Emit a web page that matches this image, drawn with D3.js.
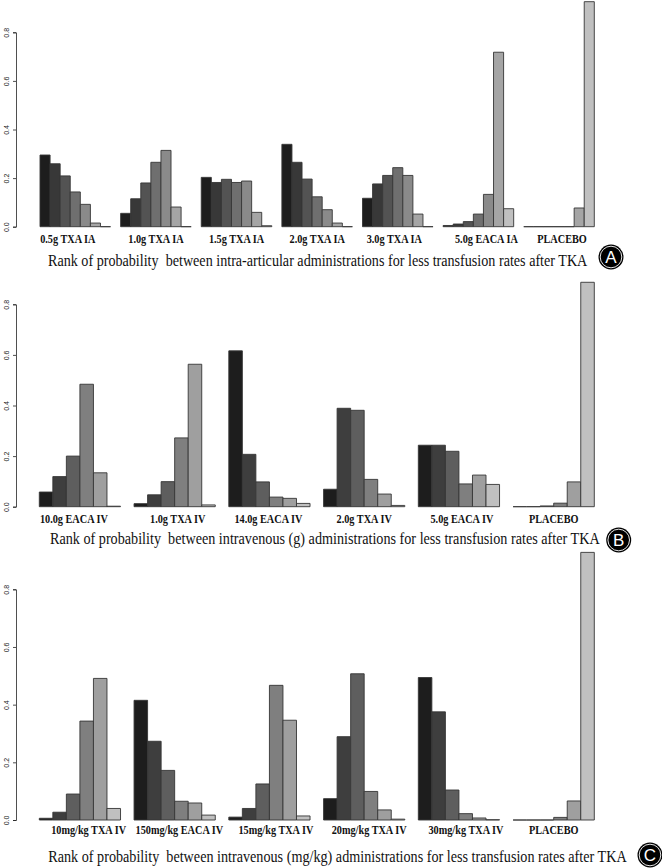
<!DOCTYPE html>
<html>
<head>
<meta charset="utf-8">
<script src="https://cdn.jsdelivr.net/npm/d3@7"></script>
<style>
  body { margin: 0; background: #fff; }
  svg { display: block; }
</style>
</head>
<body>
<svg id="chart" width="662" height="868"></svg>
<script>
// ranks probabilities (one row per treatment, one value per rank)
const groupsA = ["0.5g TXA IA", "1.0g TXA IA", "1.5g TXA IA", "2.0g TXA IA", "3.0g TXA IA", "5.0g EACA IA", "PLACEBO"]
const probsA = [
  [0.295, 0.259, 0.209, 0.143, 0.092, 0.015, 0.0],
  [0.055, 0.115, 0.180, 0.265, 0.314, 0.081, 0.0],
  [0.203, 0.182, 0.195, 0.182, 0.188, 0.059, 0.004],
  [0.339, 0.265, 0.196, 0.123, 0.070, 0.015, 0.0],
  [0.117, 0.176, 0.211, 0.243, 0.211, 0.052, 0.0],
  [0.005, 0.011, 0.021, 0.052, 0.133, 0.718, 0.074],
  [0.0, 0.0, 0.0, 0.0, 0.0, 0.077, 0.926]
]
const titleA = "Rank of probability  between intra-articular administrations for less transfusion rates after TKA"

const groupsB = ["10.0g EACA IV", "1.0g TXA IV", "14.0g EACA IV", "2.0g TXA IV", "5.0g EACA IV", "PLACEBO"]
const probsB = [
  [0.058, 0.119, 0.200, 0.484, 0.134, 0.002],
  [0.012, 0.047, 0.099, 0.272, 0.563, 0.007],
  [0.616, 0.207, 0.098, 0.038, 0.033, 0.013],
  [0.069, 0.389, 0.381, 0.108, 0.050, 0.005],
  [0.243, 0.243, 0.219, 0.090, 0.125, 0.088],
  [0.0, 0.0, 0.003, 0.014, 0.098, 0.887]
]
const titleB = "Rank of probability  between intravenous (g) administrations for less transfusion rates after TKA"

const groupsC = ["10mg/kg TXA IV", "150mg/kg EACA IV", "15mg/kg TXA IV", "20mg/kg TXA IV", "30mg/kg TXA IV", "PLACEBO"]
const probsC = [
  [0.006, 0.027, 0.090, 0.343, 0.491, 0.040],
  [0.415, 0.273, 0.172, 0.065, 0.059, 0.017],
  [0.010, 0.040, 0.125, 0.467, 0.346, 0.014],
  [0.074, 0.289, 0.507, 0.099, 0.035, 0.003],
  [0.494, 0.375, 0.104, 0.022, 0.007, 0.001],
  [0.0, 0.0, 0.0, 0.009, 0.066, 0.928]
]
const titleC = "Rank of probability  between intravenous (mg/kg) administrations for less transfusion rates after TKA"

const yTicks = [0, 0.2, 0.4, 0.6, 0.8]
const yTickLabels = ["0.0", "0.2", "0.4", "0.6", "0.8"]

// layout of the three panels (pixels)
const panels = [
  { groups: groupsA, probs: probsA, title: titleA, badge: "A",
    y0: 226.7, y8: 32.3, x0: 40, x1: 594.3, labelY: 242.5, titleY: 265.5, titleX: [48, 588],
    badgeXY: [611, 257], nudge: [-7.5, 0, 0, 0, -3.5, 8, 3] },
  { groups: groupsB, probs: probsB, title: titleB, badge: "B",
    y0: 506.7, y8: 304.3, x0: 39.3, x1: 594.3, labelY: 522.5, titleY: 543.5, titleX: [50, 600],
    badgeXY: [618.7, 540], nudge: [-6, 3, -1, 0, 3, 0] },
  { groups: groupsC, probs: probsC, title: titleC, badge: "C",
    y0: 820, y8: 589.3, x0: 39.3, x1: 594.3, labelY: 834, titleY: 861.5, titleX: [48.3, 626.7],
    badgeXY: [650, 855], nudge: [8.7, 4.7, 6.5, 5, 7, 0] }
]

const AXIS_X = 16
const SQUEEZE = 0.82   // the figure's text is horizontally condensed

const svg = d3.select('#chart')

panels.forEach(p => {
  const nRanks = p.probs[0].length
  const g = svg.append('g')

  // group band: gap of one bar between groups, as in R's beside barplot
  const xGroup = d3.scaleBand()
    .domain(p.groups)
    .range([p.x0, p.x1])
    .paddingInner(1 / (nRanks + 1))
    .paddingOuter(0)
  const xRank = d3.scaleBand()
    .domain(d3.range(nRanks))
    .range([0, xGroup.bandwidth()])
  const y = d3.scaleLinear().domain([0, 0.8]).range([p.y0, p.y8])
  const shade = d3.scaleLinear()
    .domain([0, nRanks - 1])
    .range(['#1d1d1d', '#c0c0c0'])

  const bars = p.groups.flatMap((name, gi) =>
    p.probs[gi].map((v, ri) => ({ name, rank: ri, value: v })))

  // paths so that zero-height bars still show a baseline stroke
  g.selectAll('.bar')
    .data(bars)
    .enter()
    .append('path')
    .attr('class', 'bar')
    .attr('d', d => {
      const xa = xGroup(d.name) + xRank(d.rank)
      const xb = xa + xRank.bandwidth()
      return `M${xa},${y(0)}V${y(d.value)}H${xb}V${y(0)}Z`
    })
    .style('fill', d => shade(d.rank))
    .style('stroke', '#363636')
    .style('stroke-width', 0.9)

  // y axis
  const axis = g.append('g')
    .attr('transform', `translate(${AXIS_X},0)`)
    .call(d3.axisLeft(y)
      .tickValues(yTicks)
      .tickFormat((d, i) => yTickLabels[i])
      .tickSizeOuter(0)
      .tickSize(3))
  axis.select('.domain').attr('stroke', '#222').attr('stroke-width', 0.8)
  axis.selectAll('.tick line').attr('stroke', '#222').attr('stroke-width', 0.8)
  axis.selectAll('.tick text')
    .attr('x', 0)
    .attr('dy', 0)
    .attr('transform', 'translate(-7,0) rotate(-90)')
    .attr('text-anchor', 'middle')
    .style('font-family', '"Liberation Sans", Arial, sans-serif')
    .style('font-size', '7px')
    .style('fill', '#222')

  // treatment names under each group
  g.selectAll('.cat')
    .data(p.groups)
    .enter()
    .append('text')
    .attr('class', 'cat')
    .attr('transform', (d, i) =>
      `translate(${xGroup(d) + xGroup.bandwidth() / 2 + p.nudge[i]},${p.labelY}) scale(${SQUEEZE},1)`)
    .attr('text-anchor', 'middle')
    .style('font-family', '"Liberation Serif", "Times New Roman", serif')
    .style('font-weight', 'bold')
    .style('font-size', '12.5px')
    .style('fill', '#111')
    .text(d => d)

  // panel title, squeezed to the width it takes in the figure
  const t = g.append('text')
    .style('font-family', '"Liberation Serif", "Times New Roman", serif')
    .style('font-size', '16px')
    .style('white-space', 'pre')
    .style('fill', '#111')
    .attr('xml:space', 'preserve')
    .text(p.title)
  const natural = t.node().getComputedTextLength()
  const sx = (p.titleX[1] - p.titleX[0]) / natural
  t.attr('transform', `translate(${p.titleX[0]},${p.titleY}) scale(${sx},1)`)

  // letter badge
  const b = g.append('g').attr('transform', `translate(${p.badgeXY[0]},${p.badgeXY[1]})`)
  b.append('circle').attr('r', 12.5).style('fill', '#000')
  b.append('circle').attr('r', 10.8).style('fill', 'none').style('stroke', '#fff').style('stroke-width', 0.9)
  b.append('text')
    .attr('text-anchor', 'middle')
    .attr('y', 6)
    .style('font-family', '"Liberation Sans", Arial, sans-serif')
    .style('font-size', '17px')
    .style('fill', '#fff')
    .text(p.badge)
})
</script>
</body>
</html>
